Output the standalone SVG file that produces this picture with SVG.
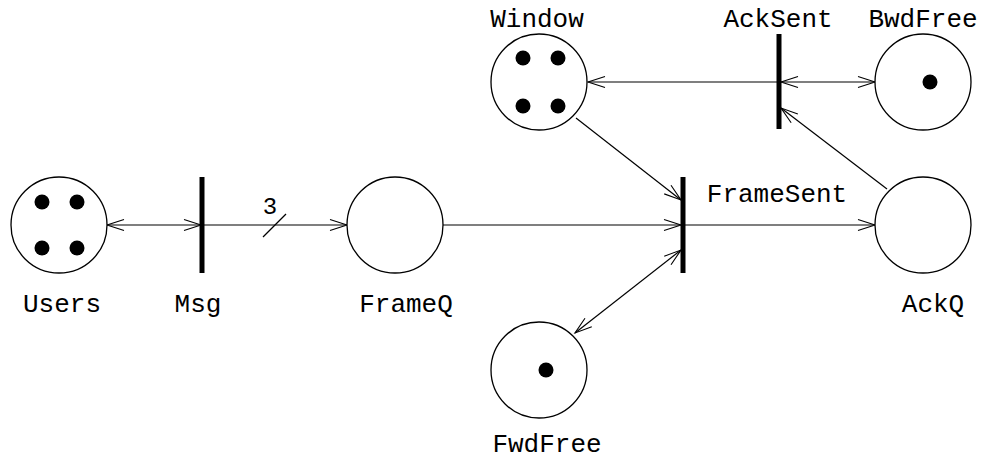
<svg xmlns="http://www.w3.org/2000/svg" width="989" height="461" viewBox="0 0 989 461">
<defs>
<marker id="ah" markerUnits="userSpaceOnUse" markerWidth="20" markerHeight="14" viewBox="-1 -1 20 14" refX="17" refY="6" orient="auto-start-reverse">
<path d="M0,0.5 L17,6 L0,11.5" fill="none" stroke="#000" stroke-width="1.1"/>
</marker>
</defs>
<style>
.pl{fill:#fff;stroke:#000;stroke-width:1.3}
.tk{fill:#000}
.tr{stroke:#000;stroke-width:5}
.lb{font-family:"Liberation Mono","Courier New",monospace;font-size:26px;fill:#000;text-anchor:middle}
.ar{stroke:#000;stroke-width:1.2;fill:none}
</style>
<rect width="989" height="461" fill="#fff"/>
<g id="connectors">
<line class="ar" x1="107" y1="225" x2="201" y2="225" marker-start="url(#ah)" marker-end="url(#ah)"/>
<line class="ar" x1="204" y1="225" x2="347" y2="225" marker-end="url(#ah)"/>
<line class="ar" x1="263" y1="237" x2="286" y2="214"/>
<text class="lb" x="270" y="214" style="font-size:24px">3</text>
<line class="ar" x1="443" y1="225" x2="681" y2="225" marker-end="url(#ah)"/>
<line class="ar" x1="685" y1="225" x2="875" y2="225" marker-end="url(#ah)"/>
<line class="ar" x1="576" y1="118" x2="681" y2="200" marker-end="url(#ah)"/>
<line class="ar" x1="575" y1="333" x2="681" y2="250" marker-start="url(#ah)" marker-end="url(#ah)"/>
<line class="ar" x1="777" y1="82" x2="588" y2="82" marker-end="url(#ah)"/>
<line class="ar" x1="781" y1="82" x2="875" y2="82" marker-start="url(#ah)" marker-end="url(#ah)"/>
<line class="ar" x1="887" y1="189" x2="781" y2="108" marker-end="url(#ah)"/>
</g>
<g id="Users">
<circle class="pl" cx="59" cy="225" r="48"/>
<circle class="tk" cx="42" cy="202" r="7.5"/><circle class="tk" cx="77" cy="202" r="7.5"/>
<circle class="tk" cx="42" cy="248" r="7.5"/><circle class="tk" cx="77" cy="248" r="7.5"/>
<text class="lb" x="62" y="312">Users</text>
</g>
<g id="Msg">
<line class="tr" x1="202" y1="177" x2="202" y2="273"/>
<text class="lb" x="198" y="312">Msg</text>
</g>
<g id="FrameQ">
<circle class="pl" cx="395" cy="225" r="48"/>
<text class="lb" x="406" y="312">FrameQ</text>
</g>
<g id="FrameSent">
<line class="tr" x1="683" y1="177" x2="683" y2="273"/>
<text class="lb" x="777" y="202">FrameSent</text>
</g>
<g id="AckQ">
<circle class="pl" cx="923" cy="225" r="48"/>
<text class="lb" x="933" y="312">AckQ</text>
</g>
<g id="Window">
<circle class="pl" cx="539" cy="82" r="48"/>
<circle class="tk" cx="523" cy="58" r="7.5"/><circle class="tk" cx="558" cy="58" r="7.5"/>
<circle class="tk" cx="523" cy="106" r="7.5"/><circle class="tk" cx="558" cy="106" r="7.5"/>
<text class="lb" x="537" y="27">Window</text>
</g>
<g id="AckSent">
<line class="tr" x1="779" y1="34" x2="779" y2="129"/>
<text class="lb" x="778" y="27">AckSent</text>
</g>
<g id="BwdFree">
<circle class="pl" cx="923" cy="82" r="48"/>
<circle class="tk" cx="930" cy="82" r="7.5"/>
<text class="lb" x="923" y="27">BwdFree</text>
</g>
<g id="FwdFree">
<circle class="pl" cx="539" cy="370" r="48"/>
<circle class="tk" cx="546" cy="370" r="7.5"/>
<text class="lb" x="547" y="452">FwdFree</text>
</g>
</svg>
